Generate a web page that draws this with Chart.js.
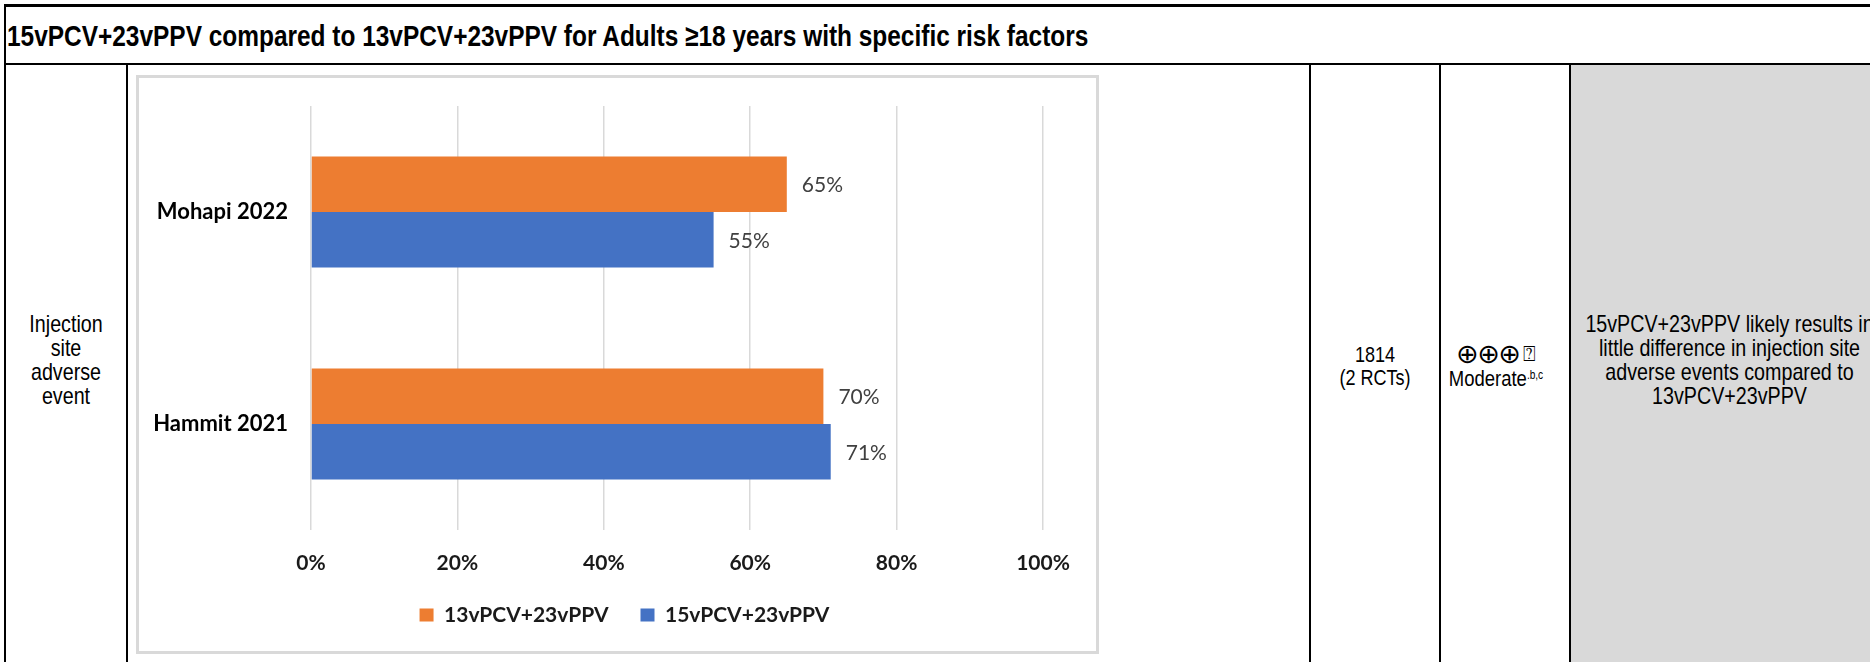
<!DOCTYPE html>
<html>
<head>
<meta charset="utf-8">
<script src="https://cdn.jsdelivr.net/npm/chart.js@4/dist/chart.umd.min.js"></script>
<style>
  html, body { margin: 0; padding: 0; background: #fff; }
  #page { position: relative; width: 1870px; height: 662px; overflow: hidden; background: #fff; }
  .rule { position: absolute; background: #000; }
  /* Condensed sans: Liberation Sans squeezed horizontally */
  .narrow { font-family: "Liberation Sans", Arial, sans-serif; color: #000; transform: scaleX(0.82); transform-origin: 50% 50%; }
  #title { position: absolute; left: 7px; top: 18px; font-size: 29.8px; font-weight: bold; white-space: nowrap; line-height: 36px; transform-origin: 0 50%; }
  #outcome { position: absolute; left: 6px; width: 120px; top: 312px; font-size: 24px; line-height: 24px; text-align: center; white-space: nowrap; }
  #participants { position: absolute; left: 1311px; width: 128px; top: 343px; font-size: 22px; line-height: 23px; text-align: center; white-space: nowrap; }
  #certainty { position: absolute; left: 1432px; width: 128px; top: 342px; text-align: center; }
  #certainty .symbols { font-family: "DejaVu Sans", sans-serif; font-size: 27px; letter-spacing: -1.5px; line-height: 24px; white-space: nowrap; color: #000; }
  #certainty .symbols .blank { font-size: 21px; letter-spacing: 0; vertical-align: 2px; margin-left: 3px; }
  #certainty .grade { font-size: 22px; line-height: 25px; white-space: nowrap; transform: scaleX(0.84); }
  #certainty sup { font-size: 12px; vertical-align: 7px; line-height: 0; }
  #summaryCell { position: absolute; left: 1571px; top: 65px; width: 299px; height: 597px; background: #d9d9d9; }
  #summary { position: absolute; left: 1529px; width: 401px; top: 312px; font-size: 24px; line-height: 24px; text-align: center; white-space: nowrap; }
  #chartBox { position: absolute; left: 136px; top: 75px; width: 963px; height: 579px; box-sizing: border-box; border: 3px solid #d9d9d9; background: #fff; }
  #chartBox canvas { display: block; }
</style>
</head>
<body>
<div id="page">
  <div id="summaryCell"></div>

  <div class="rule" style="left:4px; top:4px; width:1866px; height:3px;"></div>
  <div class="rule" style="left:4px; top:4px; width:2px; height:658px;"></div>
  <div class="rule" style="left:4px; top:63px; width:1866px; height:2px;"></div>
  <div class="rule" style="left:126px; top:63px; width:2px; height:599px;"></div>
  <div class="rule" style="left:1309px; top:63px; width:2px; height:599px;"></div>
  <div class="rule" style="left:1439px; top:63px; width:2px; height:599px;"></div>
  <div class="rule" style="left:1569px; top:63px; width:2px; height:599px;"></div>

  <div id="title" class="narrow">15vPCV+23vPPV compared to 13vPCV+23vPPV for Adults ≥18 years with specific risk factors</div>

  <div id="outcome" class="narrow">Injection<br>site<br>adverse<br>event</div>

  <div id="chartBox"><canvas id="chart" width="957" height="573"></canvas></div>

  <div id="participants" class="narrow">1814<br>(2 RCTs)</div>

  <div id="certainty">
    <div class="symbols">⊕⊕⊕<span class="blank">⍰</span></div>
    <div class="grade narrow">Moderate<sup>.b,c</sup></div>
  </div>

  <div id="summary" class="narrow">15vPCV+23vPPV likely results in<br>little difference in injection site<br>adverse events compared to<br>13vPCV+23vPPV</div>
</div>

<script>
// Studies shown on the category axis
const categories = ['Mohapi 2022', 'Hammit 2021'];

// Share of participants with an injection site adverse event (%)
const series13v = [65, 70];
const series15v = [55, 71];
const seriesNames = ['13vPCV+23vPPV', '15vPCV+23vPPV'];

// Value axis ticks (%)
const xTicks = [0, 20, 40, 60, 80, 100];

const ORANGE = '#ED7D31';
const BLUE = '#4472C4';
const boldFont = { family: 'Lato', size: 21, weight: 'bold' };

// Writes each bar's value just past its end
const valueLabels = {
  id: 'valueLabels',
  afterDatasetsDraw(chart) {
    const { ctx } = chart;
    ctx.save();
    ctx.font = '21px Lato';
    ctx.fillStyle = '#404040';
    ctx.textAlign = 'left';
    ctx.textBaseline = 'middle';
    chart.data.datasets.forEach((ds, i) => {
      chart.getDatasetMeta(i).data.forEach((bar, j) => {
        ctx.fillText(ds.data[j] + '%', bar.x + 15, bar.y + 1);
      });
    });
    ctx.restore();
  }
};

// Centres the legend row under the whole chart box rather than the plot
const legendCentre = {
  id: 'legendCentre',
  afterLayout(chart) {
    if (chart.legend) { chart.legend.left = 67; }
  }
};

new Chart(document.getElementById('chart'), {
  type: 'bar',
  data: {
    labels: categories,
    datasets: [
      { label: seriesNames[0], data: series13v, backgroundColor: ORANGE },
      { label: seriesNames[1], data: series15v, backgroundColor: BLUE }
    ]
  },
  options: {
    indexAxis: 'y',
    responsive: false,
    animation: false,
    devicePixelRatio: 1,
    layout: { padding: { top: 28, right: 53, bottom: 15.5, left: 0 } },
    datasets: { bar: { barPercentage: 1, categoryPercentage: 0.524 } },
    scales: {
      x: {
        min: 0,
        max: 100,
        afterBuildTicks: (scale) => { scale.ticks = xTicks.map(v => ({ value: v })); },
        afterFit: (scale) => { scale.height = 42.5; },
        grid: { color: '#d9d9d9', lineWidth: 1.5, drawTicks: false },
        border: { display: false },
        ticks: {
          padding: 21,
          font: boldFont,
          color: '#1a1a1a',
          callback: (v) => v + '%'
        }
      },
      y: {
        afterFit: (scale) => {
          scale.width = 172;
          scale.paddingTop = 0;
          scale.paddingBottom = 0;
        },
        grid: { display: false, drawTicks: false },
        border: { display: false },
        ticks: { padding: 23, font: { family: 'Lato', size: 22, weight: 'bold' }, color: '#000' }
      }
    },
    plugins: {
      legend: {
        position: 'bottom',
        labels: {
          boxWidth: 14,
          boxHeight: 13,
          padding: 32,
          font: boldFont,
          color: '#1a1a1a'
        }
      },
      tooltip: { enabled: false }
    }
  },
  plugins: [valueLabels, legendCentre]
});
</script>
</body>
</html>
